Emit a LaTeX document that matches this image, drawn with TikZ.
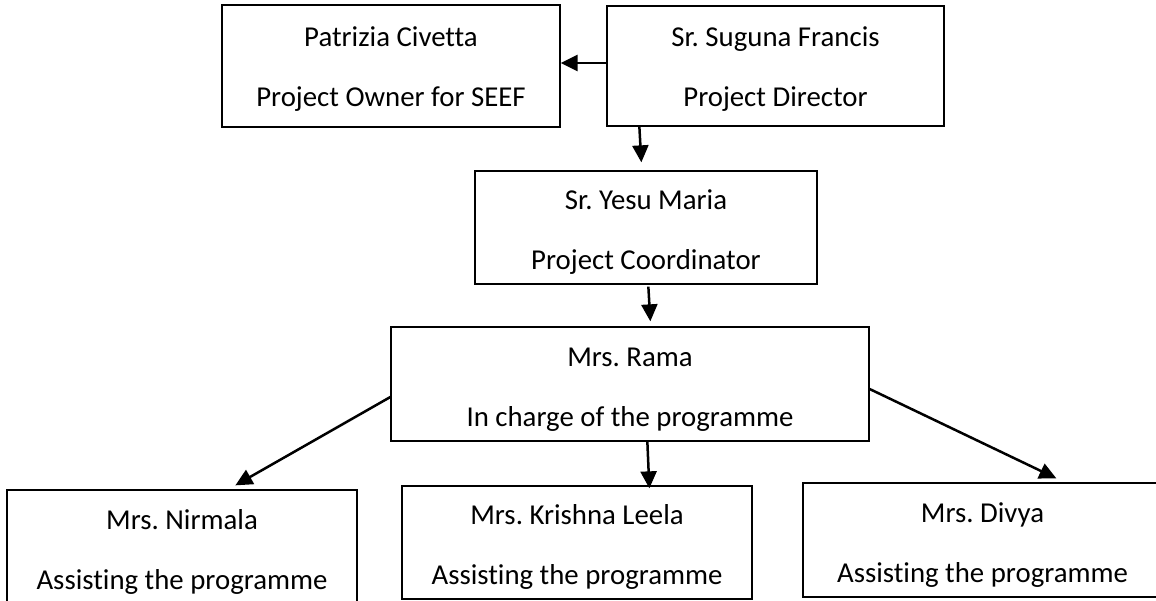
\documentclass[tikz,border=0pt]{standalone}
\usetikzlibrary{arrows.meta,positioning}
\usepackage{fontspec}
\setmainfont{Carlito}[Ligatures=NoCommon]
\frenchspacing

% name over role, optionally lifted
\newcommand{\twoline}[3][0pt]{\raisebox{#1}[\dimexpr\height-15pt\relax][\dimexpr\depth-15pt\relax]{%
        \begin{tabular}{@{}c@{}}#2\\#3\end{tabular}}}

\begin{document}
\begin{tikzpicture}[x=1pt, y=1pt,
        box/.style={draw, line width=1.3pt, inner sep=0pt,
                font=\fontsize{28.8}{60}\selectfont},
        link/.style={-{Triangle[length=17pt, width=16pt]}, line width=2.5pt}]

\useasboundingbox (0,0) rectangle (1156,-600);

% Top
\node[box, minimum width=338pt, minimum height=122pt] (patrizia) at (391,-66)
        {\twoline[2pt]{Patrizia Civetta}{Project Owner for SEEF}};
\node[box, minimum width=337pt, minimum height=120pt] (suguna) at (775.5,-66)
        {\twoline[2pt]{Sr. Suguna Francis}{Project Director}};

% Middle
\node[box, minimum width=342pt, minimum height=113pt] (yesu) at (646,-227.5)
        {\twoline{Sr. Yesu Maria}{Project Coordinator}};
\node[box, minimum width=478pt, minimum height=114pt] (rama) at (630,-384)
        {\twoline{Mrs. Rama}{In charge of the programme}};

% Assistants
\node[box, minimum width=350pt, minimum height=120pt] (nirmala) at (182,-550)
        {\twoline[3pt]{Mrs. Nirmala}{Assisting the programme}};
\node[box, minimum width=350pt, minimum height=113pt] (krishna) at (577,-542.5)
        {\twoline{Mrs. Krishna Leela}{Assisting the programme}};
\node[box, minimum width=359pt, minimum height=114pt] (divya) at (982.5,-540)
        {\twoline{Mrs. Divya}{Assisting the programme}};

% Connections
\draw[link] ([yshift=3pt]suguna.west) -- ([yshift=3pt]patrizia.east);
\draw[link] ([xshift=33pt]suguna.south west) -- ([xshift=167pt, yshift=8pt]yesu.north west);
\draw[link] ([xshift=174pt, yshift=-2pt]yesu.south west) -- ([xshift=260pt, yshift=5pt]rama.north west);

\draw[link] ([yshift=-13pt]rama.west) -- ([xshift=229pt, yshift=4pt]nirmala.north west);
\draw[link] ([xshift=257pt]rama.south west) -- ([xshift=248pt, yshift=-3pt]krishna.north west);
\draw[link] ([yshift=-5pt]rama.east) -- ([xshift=254pt, yshift=4pt]divya.north west);

\end{tikzpicture}
\end{document}
